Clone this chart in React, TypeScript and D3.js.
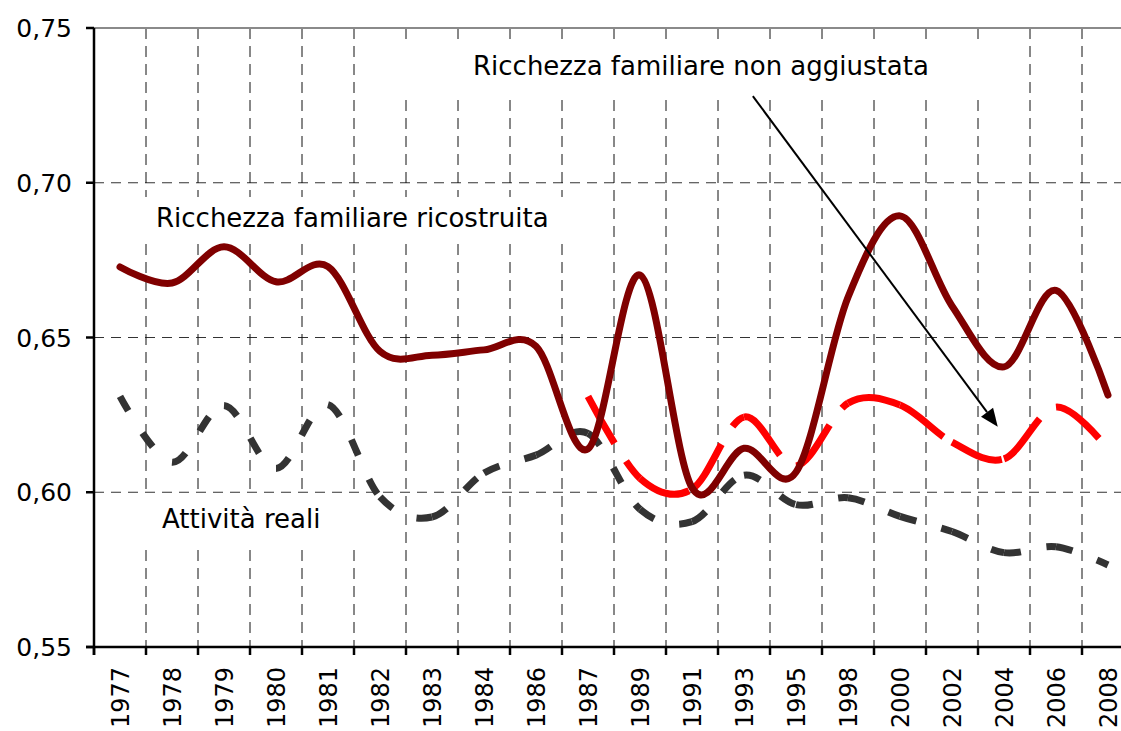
import React from 'react';
import * as d3 from 'd3';

// ---------- data ----------
const years = ["1977", "1978", "1979", "1980", "1981", "1982", "1983", "1984", "1986", "1987", "1989", "1991", "1993", "1995", "1998", "2000", "2002", "2004", "2006", "2008"];

const ricchezzaRicostruita = [0.6728, 0.6676, 0.6793, 0.6680, 0.6729, 0.6455, 0.6443, 0.6460, 0.6472, 0.6140, 0.6702, 0.6015, 0.6142, 0.6065, 0.6630, 0.6893, 0.6602, 0.6405, 0.6652, 0.6314];

const ricchezzaNonAggiustata: (number | null)[] = [null, null, null, null, null, null, null, null, null, 0.6310, 0.6045, 0.6010, 0.6243, 0.6085, 0.6288, 0.6282, 0.6162, 0.6108, 0.6275, 0.6140];

const attivitaReali = [0.6310, 0.6097, 0.6280, 0.6077, 0.6283, 0.5985, 0.5920, 0.6062, 0.6120, 0.6190, 0.5945, 0.5905, 0.6055, 0.5960, 0.5982, 0.5922, 0.5873, 0.5805, 0.5824, 0.5765];

const yTicks = [0.55, 0.6, 0.65, 0.7, 0.75];

const labelNonAggiustata = "Ricchezza familiare non aggiustata";
const labelRicostruita = "Ricchezza familiare ricostruita";
const labelAttivita = "Attività reali";

// ---------- layout ----------
const W = 1121;
const H = 731;
const left = 94;
const top = 28;
const bottom = 647;
const right = 1134;
const FONT = "'DejaVu Sans', Verdana, sans-serif";

type Pt = [number, number];

function segmentPaths(pts: Pt[]): string[] {
  const out: string[] = [];
  const k = 1 / 6;
  for (let i = 0; i < pts.length - 1; i++) {
    const p1 = pts[i];
    const p2 = pts[i + 1];
    const p0 = i === 0 ? p2 : pts[i - 1];
    const p3 = i + 2 < pts.length ? pts[i + 2] : p1;
    const p = d3.path();
    p.moveTo(p1[0], p1[1]);
    p.bezierCurveTo(
      p1[0] + k * (p2[0] - p0[0]), p1[1] + k * (p2[1] - p0[1]),
      p2[0] - k * (p3[0] - p1[0]), p2[1] - k * (p3[1] - p1[1]),
      p2[0], p2[1]
    );
    out.push(p.toString());
  }
  return out;
}

export default function App() {
  const x = d3.scaleBand<string>().domain(years).range([left, right]).padding(0);
  const y = d3.scaleLinear().domain([0.55, 0.75]).range([bottom, top]);
  const step = x.step();
  const cx = (yr: string) => (x(yr) as number) + x.bandwidth() / 2;
  const cxi = (i: number) => cx(years[0]) + i * step;

  const ptsOf = (vals: (number | null)[]): Pt[] =>
    vals
      .map((v, i) => (v == null ? null : ([cx(years[i]), y(v)] as Pt)))
      .filter((p): p is Pt => p !== null);

  const lineGen = d3.line<Pt>().x(d => d[0]).y(d => d[1]).curve(d3.curveCardinal.tension(0));

  const darkRedPath = lineGen(ptsOf(ricchezzaRicostruita)) || "";
  const redSegs = segmentPaths(ptsOf(ricchezzaNonAggiustata));
  const graySegs = segmentPaths(ptsOf(attivitaReali));

  const boundaries = years.map(yr => x(yr) as number).concat([right]);

  // arrow annotation (data space)
  const a0: Pt = [cxi(12.17), y(0.7280)];
  const a1: Pt = [cxi(16.88), y(0.6212)];
  const ang = Math.atan2(a1[1] - a0[1], a1[0] - a0[0]);
  const headLen = 18;
  const headW = 7.5;
  const base: Pt = [a1[0] - headLen * Math.cos(ang), a1[1] - headLen * Math.sin(ang)];
  const hp1: Pt = [base[0] + headW * Math.sin(ang), base[1] - headW * Math.cos(ang)];
  const hp2: Pt = [base[0] - headW * Math.sin(ang), base[1] + headW * Math.cos(ang)];

  const fmt = (v: number) => d3.format(".2f")(v).replace(".", ",");

  return (
    <svg width={W} height={H} style={{ position: 'absolute', left: 0, top: 0, display: 'block', background: '#fff' }} fontFamily={FONT}>
      <rect x={0} y={0} width={W} height={H} fill="#fff" />

      {/* horizontal gridlines */}
      {yTicks.filter(t => t > 0.55 && t < 0.75).map(t => (
        <line key={"h" + t} x1={left} x2={W} y1={y(t)} y2={y(t)} stroke="#333" strokeWidth={1} strokeDasharray="10 7" />
      ))}
      {/* vertical gridlines */}
      {boundaries.slice(1).map((bx, i) => (
        <line key={"v" + i} x1={bx} x2={bx} y1={top} y2={bottom} stroke="#111" strokeWidth={1} strokeDasharray="11 7" />
      ))}

      {/* top border */}
      <line x1={left} x2={W} y1={top} y2={top} stroke="#8a8a8a" strokeWidth={2} />

      {/* white label boxes */}
      <rect x={395} y={44} width={610} height={52} fill="#fff" />
      <rect x={132} y={197} width={443} height={45} fill="#fff" />
      <rect x={135} y={494} width={230} height={56} fill="#fff" />

      {/* series */}
      {graySegs.map((d, i) => (
        <path key={"g" + i} d={d} fill="none" stroke="#333333" strokeWidth={7} strokeDasharray="17 26" strokeLinecap="butt" />
      ))}
      {redSegs.map((d, i) => (
        <path key={"r" + i} d={d} fill="none" stroke="#ff0000" strokeWidth={7} strokeDasharray="54 21" strokeLinecap="butt" />
      ))}
      <path d={darkRedPath} fill="none" stroke="#800000" strokeWidth={7} strokeLinecap="round" strokeLinejoin="round" />

      {/* axes */}
      <line x1={left} x2={left} y1={top} y2={bottom + 8} stroke="#000" strokeWidth={2.5} />
      <line x1={left - 8} x2={W} y1={bottom} y2={bottom} stroke="#000" strokeWidth={2.5} />
      {yTicks.map(t => (
        <g key={"yt" + t}>
          <line x1={left - 8} x2={left} y1={y(t)} y2={y(t)} stroke="#000" strokeWidth={2.5} />
          <text x={72} y={y(t)} dy="0.36em" textAnchor="end" fontSize={25} fill="#000">{fmt(t)}</text>
        </g>
      ))}
      {boundaries.map((bx, i) => (
        <line key={"xt" + i} x1={bx} x2={bx} y1={bottom} y2={bottom + 8} stroke="#000" strokeWidth={2.5} />
      ))}
      {years.map(yr => (
        <text key={"xl" + yr} transform={`translate(${cx(yr) + 9},${667}) rotate(-90)`} textAnchor="end" fontSize={24} fill="#000">{yr}</text>
      ))}

      {/* annotations */}
      <text x={473} y={75} fontSize={26} fill="#000">{labelNonAggiustata}</text>
      <text x={156} y={227} fontSize={26} fill="#000">{labelRicostruita}</text>
      <text x={162} y={528} fontSize={26} fill="#000">{labelAttivita}</text>

      <line x1={a0[0]} y1={a0[1]} x2={base[0]} y2={base[1]} stroke="#000" strokeWidth={2} />
      <polygon points={[a1, hp1, hp2].map(p => p.join(",")).join(" ")} fill="#000" />
    </svg>
  );
}
